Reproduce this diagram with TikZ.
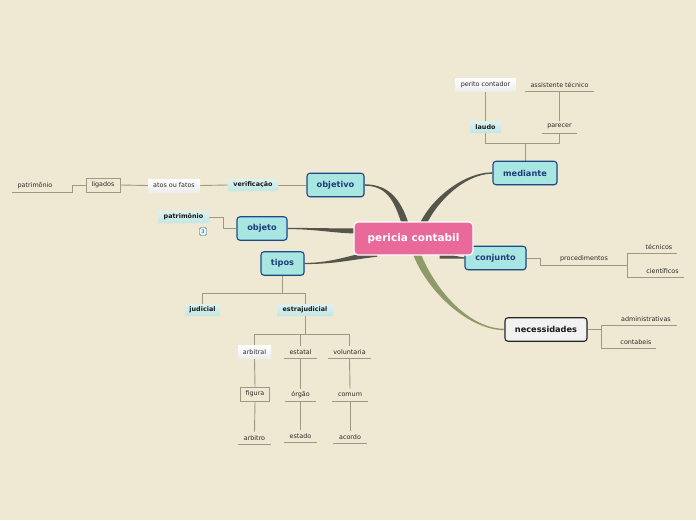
\documentclass[tikz,border=0pt]{standalone}
\usepackage{fontspec}
\setmainfont{DejaVu Sans}
\usetikzlibrary{calc,shadows}
\definecolor{bgc}{HTML}{EFE8D2}
\definecolor{tb}{HTML}{1F4A8A}
\definecolor{tf}{HTML}{A8E6E2}
\definecolor{tt}{HTML}{1D3C78}
\definecolor{pk}{HTML}{E8699A}
\definecolor{dkc}{HTML}{56554B}
\definecolor{grc}{HTML}{8E9A68}
\definecolor{lnc}{HTML}{A09883}
\definecolor{stc}{HTML}{2A2A2A}
\definecolor{bst}{HTML}{DDF2F0}
\definecolor{bsb}{HTML}{C2E7E4}
\pgfdeclarelayer{bgl}
\pgfdeclarelayer{lines}
\pgfsetlayers{bgl,lines,main}
\tikzset{
 topic/.style={draw=tb, fill=tf, line width=1.1pt, rounded corners=3pt, text=tt,
   font=\bfseries\fontsize{8.2}{10}\selectfont, minimum height=23.5pt, inner sep=0pt,
   drop shadow={shadow xshift=0.8pt, shadow yshift=-0.8pt, opacity=0.25}},
 topicw/.style={topic, draw=black!85, fill=black!5, text=black!90},
 cen/.style={fill=pk, draw=white, line width=1.3pt, rounded corners=4pt, text=white,
   font=\bfseries\fontsize{10.5}{12}\selectfont, minimum width=119pt, minimum height=33pt, inner sep=0pt},
 bsub/.style={top color=bst, bottom color=bsb, draw=none, text=black!90,
   font=\bfseries\fontsize{6.4}{8}\selectfont, minimum height=12pt, inner sep=1pt, rounded corners=1pt},
 wsub/.style={top color=white, bottom color=black!7, draw=none, text=stc,
   font=\fontsize{6.4}{8}\selectfont, minimum height=13pt, inner sep=1pt},
 osub/.style={draw=lnc, line width=0.8pt, text=stc, font=\fontsize{6.4}{8}\selectfont,
   minimum height=14pt, inner sep=1pt},
 ul/.style={text=stc, font=\fontsize{6.4}{8}\selectfont, minimum height=12pt, inner sep=0pt, anchor=south},
 lnk/.style={draw=lnc, line width=0.9pt},
 badge/.style={draw=tb!70!gray, fill=cyan!10!white, rounded corners=1.5pt, text=tt,
   font=\fontsize{5}{6}\selectfont, minimum width=7pt, minimum height=8pt, inner sep=0.5pt}
}
\begin{document}
\begin{tikzpicture}[x=1pt,y=-1pt]
\begin{pgfonlayer}{bgl}
\fill[bgc] (0,0) rectangle (696,520);
\end{pgfonlayer}
\useasboundingbox (0,0) rectangle (696,520);

% main topics
\node[topic, minimum width=57pt] (objetivo) at (335.5,185) {objetivo};
\node[topic, minimum width=50pt] (objeto) at (262,228.5) {objeto};
\node[topic, minimum width=43pt] (tipos) at (282.5,263.5) {tipos};
\node[topic, minimum width=64pt] (mediante) at (525,173) {mediante};
\node[topic, minimum width=61pt] (conjunto) at (495.5,258) {conjunto};
\node[topicw, minimum width=82pt] (nec) at (546,329.5) {necessidades};
\node[cen] (c) at (413.5,238.5) {pericia contabil};

% mediante branch
\node[bsub, minimum width=31pt] (laudo) at (485.5,127) {laudo};
\node[ul, minimum width=35pt] (parecer) at (559.5,133) {parecer};
\node[wsub, minimum width=60pt] (perito) at (485.5,84.5) {perito contador};
\node[ul, minimum width=69pt] (assist) at (559.5,91) {assistente técnico};

% objetivo branch
\node[bsub, minimum width=50pt] (verif) at (253,185) {verificação};
\node[wsub, minimum width=52pt] (atos) at (174,185.5) {atos ou fatos};
\node[osub, minimum width=34pt] (ligados) at (103,185) {ligados};
\node[ul, minimum width=46pt] (pat1) at (35,192) {patrimônio};

% objeto branch
\node[bsub, minimum width=51pt] (pat2) at (183.5,217) {patrimônio};
\node[badge] (b3) at (203,231.5) {3};

% tipos branch
\node[bsub, minimum width=35pt] (jud) at (202.5,310) {judicial};
\node[bsub, minimum width=56pt] (estraj) at (305,310) {estrajudicial};
\node[wsub, minimum width=33pt] (arb) at (254.5,352) {arbitral};
\node[ul, minimum width=33pt] (estatal) at (300.5,358) {estatal};
\node[ul, minimum width=43pt] (vol) at (349.5,358.5) {voluntaria};
\node[osub, minimum width=29pt] (fig) at (255,394) {figura};
\node[ul, minimum width=33pt] (arbitro) at (254.5,444) {arbitro};
\node[ul, minimum width=31pt] (orgao) at (300.5,401) {órgão};
\node[ul, minimum width=32pt] (estado) at (300.5,442) {estado};
\node[ul, minimum width=35pt] (comum) at (350,401) {comum};
\node[ul, minimum width=34pt] (acordo) at (350,443) {acordo};

% conjunto branch
\node[ul, minimum width=58pt] (proc) at (584,265) {procedimentos};
\node[ul, minimum width=36pt] (tec) at (659,253) {técnicos};
\node[ul, minimum width=43pt] (cie) at (662.5,277) {científicos};

% necessidades branch
\node[ul, minimum width=62pt] (adm) at (646,325) {administrativas};
\node[ul, minimum width=40pt] (cont) at (636,348) {contabeis};

\begin{pgfonlayer}{lines}
% tapered main connectors
\fill[dkc] ($(objetivo.east)+(0,-0.7)$) .. controls +(26,0) and +(-8,-28) .. ($(c.north west)+(57,8)$)
  -- ($(c.north west)+(50,8)$) .. controls +(-8,-26) and +(24,0) .. ($(objetivo.east)+(0,0.7)$) -- cycle;
\fill[dkc] ($(objeto.east)+(0,-0.6)$) .. controls +(30,0) and +(-25,0) .. ($(c.west)+(6,-10)$)
  -- ($(c.west)+(6,-5)$) .. controls +(-25,0) and +(30,0) .. ($(objeto.east)+(0,0.6)$) -- cycle;
\fill[dkc] ($(tipos.east)+(0,-0.6)$) .. controls +(30,0) and +(-25,3) .. ($(c.south west)+(24,-5)$)
  -- ($(c.south west)+(24,1)$) .. controls +(-25,3) and +(30,0) .. ($(tipos.east)+(0,0.6)$) -- cycle;
\fill[dkc] ($(mediante.west)+(0,-0.7)$) .. controls +(-30,0) and +(10,-28) .. ($(c.north west)+(64,8)$)
  -- ($(c.north west)+(71,8)$) .. controls +(10,-26) and +(-28,0) .. ($(mediante.west)+(0,0.7)$) -- cycle;
\fill[dkc] ($(c.south east)+(-34,-3)$) .. controls +(10,0) and +(-8,0) .. ($(conjunto.west)+(0,-0.7)$)
  -- ($(conjunto.west)+(0,0.7)$) .. controls +(-8,0) and +(10,0) .. ($(c.south east)+(-34,3)$) -- cycle;
\fill[grc] ($(c.south west)+(59,-3)$) .. controls +(15,40) and +(-35,0) .. ($(nec.west)+(0,0.7)$)
  -- ($(nec.west)+(0,-0.7)$) .. controls +(-35,0) and +(15,38) .. ($(c.south west)+(67,-3)$) -- cycle;

% mediante
\draw[lnk] (mediante.north) -- ++(0,-17) coordinate (mj);
\draw[lnk] (laudo.south) |- (mj) -| (parecer.south);
\draw[lnk] (laudo.north) -- (perito.south);
\draw[lnk] (parecer.north) -- (assist.south);
% objetivo
\draw[lnk] (objetivo.west) -- (verif.east);
\draw[lnk] (verif.west) -- (atos.east);
\draw[lnk] (atos.west) -- (ligados.east);
\draw[lnk] (ligados.west) -- ++(-13,0) |- (pat1.south east);
% objeto
\draw[lnk] (objeto.west) -- ++(-13,0) |- (pat2.east);
% tipos
\draw[lnk] (tipos.south) -- ++(0,18) coordinate (tj);
\draw[lnk] (jud.north) |- (tj) -| (estraj.north);
\draw[lnk] (estraj.south) -- ++(0,18) coordinate (ej);
\draw[lnk] (arb.north) |- (ej) -| (vol.north);
\draw[lnk] (estatal.north) -- (estatal.north |- ej);
\draw[lnk] (arb.south) -- (fig.north);
\draw[lnk] (fig.south) -- (arbitro.north);
\draw[lnk] (estatal.south) -- (orgao.north);
\draw[lnk] (orgao.south) -- (estado.north);
\draw[lnk] (vol.south) -- (comum.north);
\draw[lnk] (comum.south) -- (acordo.north);
% conjunto
\draw[lnk] (conjunto.east) -- ++(14,0) |- (proc.south west);
\draw[lnk] (proc.south east) -- ++(14,0) coordinate (pj);
\draw[lnk] (tec.south west) -| (pj) |- (cie.south west);
% necessidades
\draw[lnk] (nec.east) -- ++(14,0) coordinate (nj);
\draw[lnk] (adm.south west) -| (nj) |- (cont.south west);
% underlines
\foreach \n in {parecer,assist,pat1,estatal,vol,arbitro,orgao,estado,comum,acordo,proc,tec,cie,adm,cont}
  \draw[lnk] (\n.south west) -- (\n.south east);
\end{pgfonlayer}
\end{tikzpicture}
\end{document}
